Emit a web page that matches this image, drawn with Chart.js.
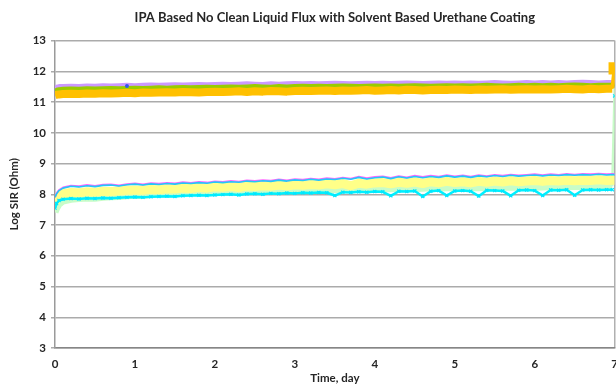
<!DOCTYPE html>
<html>
<head>
<meta charset="utf-8">
<script src="https://cdn.jsdelivr.net/npm/chart.js@4"></script>
<style>
  html, body { margin: 0; background: #fff; overflow: hidden; width: 616px; height: 389px; }
  canvas { display: block; }
</style>
</head>
<body>
<canvas id="sirChart" width="627" height="389"></canvas>
<script>
// time stamps (days) shared by all series
const times = [0, 0.02, 0.05,
  0.1, 0.2, 0.3, 0.4, 0.5, 0.6, 0.7, 0.8, 0.9, 1.0,
  1.1, 1.2, 1.3, 1.4, 1.5, 1.6, 1.7, 1.8, 1.9, 2.0,
  2.1, 2.2, 2.3, 2.4, 2.5, 2.6, 2.7, 2.8, 2.9, 3.0,
  3.1, 3.2, 3.3, 3.4, 3.5, 3.6, 3.7, 3.8, 3.9, 4.0,
  4.1, 4.2, 4.3, 4.4, 4.5, 4.6, 4.7, 4.8, 4.9, 5.0,
  5.1, 5.2, 5.3, 5.4, 5.5, 5.6, 5.7, 5.8, 5.9, 6.0,
  6.1, 6.2, 6.3, 6.4, 6.5, 6.6, 6.7, 6.8, 6.9,
  6.97, 7.0];

// upper group (log ohm)
const purpleSIR = [11.47, 11.5, 11.52,
  11.52, 11.53, 11.52, 11.54, 11.53, 11.55, 11.54, 11.55, 11.56, 11.55,
  11.56, 11.57, 11.56, 11.57, 11.58, 11.57, 11.58, 11.59, 11.58, 11.59,
  11.6, 11.59, 11.6, 11.61, 11.6, 11.59, 11.61, 11.6, 11.61, 11.62,
  11.61, 11.62, 11.61, 11.62, 11.63, 11.62, 11.61, 11.62, 11.63, 11.62,
  11.63, 11.62, 11.63, 11.64, 11.63, 11.62, 11.63, 11.64, 11.63, 11.64,
  11.63, 11.64, 11.63, 11.64, 11.65, 11.64, 11.63, 11.64, 11.65, 11.64,
  11.65, 11.64, 11.65, 11.64, 11.65, 11.66, 11.65, 11.64, 11.65,
  11.65, 11.66];

const greenSIR = [11.36, 11.4, 11.42,
  11.43, 11.44, 11.43, 11.45, 11.44, 11.45, 11.46, 11.45, 11.46, 11.47,
  11.46, 11.47, 11.48, 11.47, 11.48, 11.49, 11.48, 11.49, 11.5, 11.49,
  11.5, 11.51, 11.5, 11.51, 11.52, 11.51, 11.5, 11.52, 11.51, 11.52,
  11.53, 11.52, 11.53, 11.52, 11.53, 11.54, 11.53, 11.52, 11.53, 11.54,
  11.53, 11.54, 11.53, 11.54, 11.55, 11.54, 11.53, 11.54, 11.55, 11.54,
  11.55, 11.54, 11.55, 11.56, 11.55, 11.54, 11.55, 11.56, 11.55, 11.56,
  11.55, 11.56, 11.55, 11.56, 11.57, 11.56, 11.55, 11.56, 11.56,
  11.56, 11.57];

const orangeSIR = [11.22, 11.24, 11.25,
  11.26, 11.27, 11.26, 11.28, 11.27, 11.29, 11.28, 11.29, 11.3, 11.29,
  11.31, 11.3, 11.31, 11.32, 11.31, 11.33, 11.32, 11.31, 11.33, 11.34,
  11.33, 11.34, 11.35, 11.33, 11.35, 11.34, 11.36, 11.35, 11.34, 11.36,
  11.37, 11.36, 11.37, 11.38, 11.36, 11.38, 11.37, 11.38, 11.39, 11.37,
  11.38, 11.39, 11.38, 11.4, 11.39, 11.38, 11.39, 11.4, 11.39, 11.41,
  11.4, 11.39, 11.41, 11.4, 11.41, 11.42, 11.4, 11.41, 11.42, 11.41,
  11.42, 11.41, 11.42, 11.43, 11.42, 11.41, 11.43, 11.42, 11.43,
  11.43, 12.1];

// lower group (log ohm)
const cyanTopSIR = [7.9, 8.02, 8.12,
  8.2, 8.26, 8.24, 8.28, 8.25, 8.29, 8.3, 8.27, 8.31, 8.33,
  8.3, 8.34, 8.32, 8.35, 8.33, 8.37, 8.35, 8.38, 8.36, 8.4,
  8.38, 8.41, 8.39, 8.43, 8.41, 8.44, 8.42, 8.46, 8.43, 8.47,
  8.45, 8.49, 8.46, 8.5, 8.48, 8.52, 8.49, 8.55, 8.5, 8.54,
  8.56, 8.51, 8.57, 8.53, 8.58, 8.54, 8.58, 8.55, 8.6, 8.56,
  8.59, 8.55, 8.6, 8.57, 8.61, 8.58, 8.62, 8.59, 8.61, 8.63,
  8.6, 8.63, 8.61, 8.64, 8.62, 8.64, 8.63, 8.65, 8.63,
  8.64, 8.64];

const magentaSIR = [7.92, 8.04, 8.14,
  8.22, 8.28, 8.26, 8.3, 8.27, 8.31, 8.32, 8.29, 8.33, 8.35,
  8.32, 8.36, 8.34, 8.37, 8.35, 8.39, 8.37, 8.4, 8.38, 8.42,
  8.4, 8.43, 8.41, 8.45, 8.43, 8.46, 8.44, 8.48, 8.45, 8.49,
  8.47, 8.51, 8.48, 8.52, 8.5, 8.54, 8.51, 8.57, 8.52, 8.56,
  8.58, 8.53, 8.59, 8.55, 8.6, 8.56, 8.6, 8.57, 8.62, 8.58,
  8.61, 8.57, 8.62, 8.59, 8.63, 8.6, 8.64, 8.61, 8.63, 8.65,
  8.62, 8.65, 8.63, 8.66, 8.64, 8.66, 8.65, 8.67, 8.65,
  8.66, 8.66];

const paleYellowSIR = [7.72, 7.85, 7.95,
  8.02, 8.06, 8.05, 8.08, 8.07, 8.1, 8.09, 8.11, 8.13, 8.14,
  8.13, 8.16, 8.15, 8.18, 8.17, 8.2, 8.19, 8.22, 8.2, 8.24,
  8.23, 8.25, 8.22, 8.27, 8.25, 8.28, 8.26, 8.3, 8.27, 8.31,
  8.29, 8.32, 8.3, 8.34, 8.31, 8.35, 8.28, 8.36, 8.33, 8.37,
  8.38, 8.34, 8.39, 8.36, 8.4, 8.35, 8.41, 8.37, 8.42, 8.38,
  8.41, 8.37, 8.42, 8.39, 8.43, 8.4, 8.44, 8.41, 8.43, 8.45,
  8.42, 8.45, 8.43, 8.46, 8.44, 8.46, 8.45, 8.47, 8.45,
  8.46, 8.46];

const paleGreenSIR = [7.42, 7.55, 7.68,
  7.78, 7.84, 7.86, 7.88, 7.87, 7.9, 7.92, 7.93, 7.95, 7.97,
  7.96, 7.99, 8.0, 8.02, 8.01, 8.04, 8.05, 8.07, 8.06, 8.09,
  8.08, 8.1, 8.09, 8.11, 8.1, 8.12, 8.11, 8.13, 8.12, 8.14,
  8.13, 8.15, 8.14, 8.16, 8.15, 8.17, 8.16, 8.18, 8.17, 8.18,
  8.19, 8.18, 8.19, 8.2, 8.19, 8.2, 8.21, 8.2, 8.21, 8.22,
  8.21, 8.22, 8.21, 8.23, 8.22, 8.23, 8.24, 8.23, 8.24, 8.23,
  8.24, 8.25, 8.24, 8.25, 8.26, 8.25, 8.26, 8.25, 8.26,
  8.26, 11.45];

const cyanBottomSIR = [7.55, 7.7, 7.8,
  7.84, 7.86, 7.85, 7.87, 7.86, 7.88, 7.87, 7.89, 7.9, 7.91,
  7.9, 7.92, 7.93, 7.94, 7.93, 7.95, 7.96, 7.97, 7.96, 7.98,
  7.99, 8.0, 7.98, 8.01, 8.02, 8.0, 8.03, 8.02, 8.04, 8.03,
  8.05, 8.04, 8.06, 8.05, 7.96, 8.07, 8.06, 8.08, 8.07, 8.09,
  8.08, 7.95, 8.1, 8.09, 8.11, 7.93, 8.1, 8.12, 7.96, 8.11,
  8.12, 8.1, 7.94, 8.13, 8.12, 8.11, 7.95, 8.13, 8.14, 8.12,
  7.96, 8.14, 8.13, 8.15, 7.97, 8.14, 8.15, 8.14, 8.15,
  8.15, 11.2];

// single stray reading in the upper group
const strayTime = [0.9];
const straySIR = [11.52];

const yTicks = [3, 4, 5, 6, 7, 8, 9, 10, 11, 12, 13];
const xTicks = [0, 1, 2, 3, 4, 5, 6, 7];

const FONT = 'Lato, "Open Sans", sans-serif';
const lastIdx = times.length - 1;

function toPoints(xs, ys) {
    return xs.map((x, i) => ({ x: x, y: ys[i] }));
}

// last segment (end of test jump) is drawn thin
function band(label, values, color, width, order, endWidth) {
    return {
        label: label,
        data: toPoints(times, values),
        borderColor: color,
        backgroundColor: color,
        borderWidth: width,
        pointRadius: 0,
        tension: 0,
        order: order,
        borderJoinStyle: 'round',
        segment: {
            borderWidth: ctx => ctx.p1DataIndex === lastIdx ? endWidth : width
        }
    };
}

const orangeSet = band('Orange', orangeSIR, '#ffc000', 8, 6, 4);
orangeSet.pointRadius = ctx => ctx.dataIndex === lastIdx ? 3 : 0;
orangeSet.pointStyle = 'rect';

const cyanBottomSet = band('Cyan low', cyanBottomSIR, '#00f0ff', 2.5, 3, 0);
cyanBottomSet.pointStyle = 'crossRot';
cyanBottomSet.pointRadius = 2.2;
cyanBottomSet.pointBorderWidth = 1.2;
cyanBottomSet.pointBorderColor = '#00e5ff';
cyanBottomSet.segment.borderColor = ctx => ctx.p1DataIndex === lastIdx ? 'rgba(0,0,0,0)' : '#00f0ff';

const datasets = [
    {
        label: 'Stray',
        data: toPoints(strayTime, straySIR),
        showLine: false,
        pointRadius: 2,
        pointBackgroundColor: '#3355ee',
        pointBorderWidth: 0,
        order: 0
    },
    band('Cyan high', cyanTopSIR, '#22c8f8', 1.6, 1, 1.6),
    band('Magenta', magentaSIR, '#ff66ff', 2, 2, 2),
    cyanBottomSet,
    band('Pale yellow', paleYellowSIR, '#ffff88', 9, 4, 9),
    band('Pale green', paleGreenSIR, '#c8fcc8', 7, 5, 2.5),
    orangeSet,
    band('Green', greenSIR, '#99cc00', 4, 7, 4),
    band('Purple', purpleSIR, '#cc99ff', 4, 8, 4)
];

new Chart(document.getElementById('sirChart'), {
    type: 'line',
    data: { datasets: datasets },
    options: {
        responsive: false,
        animation: false,
        layout: { padding: { left: 0, right: 2, top: 0, bottom: 0 } },
        plugins: {
            legend: { display: false },
            tooltip: { enabled: false },
            title: {
                display: true,
                fullSize: false,
                text: 'IPA Based No Clean Liquid Flux with Solvent Based Urethane Coating',
                color: '#262626',
                font: { family: FONT, size: 13, weight: 'bold' },
                padding: { top: 10, bottom: 15 }
            }
        },
        scales: {
            x: {
                type: 'linear',
                min: 0,
                max: 7,
                afterBuildTicks: scale => { scale.ticks = xTicks.map(v => ({ value: v })); },
                afterFit: scale => { scale.height = 41; },
                ticks: {
                    color: '#262626',
                    padding: 9,
                    font: { family: FONT, size: 11.5, weight: 'bold' }
                },
                grid: {
                    drawTicks: false,
                    lineWidth: 1.5,
                    color: ctx => ctx.tick && ctx.tick.value === 7 ? '#b0b0b0' : 'rgba(0,0,0,0)'
                },
                border: { display: true, color: '#868686', width: 1.5 },
                title: {
                    display: true,
                    text: 'Time, day',
                    color: '#262626',
                    font: { family: FONT, size: 11.5, weight: 'bold' },
                    padding: { top: 0, bottom: 4 }
                }
            },
            y: {
                min: 3,
                max: 13,
                afterBuildTicks: scale => { scale.ticks = yTicks.map(v => ({ value: v })); },
                afterFit: scale => { scale.width = 55; },
                ticks: {
                    color: '#262626',
                    padding: 5,
                    font: { family: FONT, size: 11.5, weight: 'bold' }
                },
                grid: {
                    color: '#ababab',
                    lineWidth: 1.5,
                    tickLength: 4
                },
                border: { display: true, color: '#9a9a9a', width: 1.5 },
                title: {
                    display: true,
                    text: 'Log SIR (Ohm)',
                    color: '#262626',
                    font: { family: FONT, size: 11.5, weight: 'bold' },
                    padding: { top: 7, bottom: 0 }
                }
            }
        }
    }
});
</script>
</body>
</html>
